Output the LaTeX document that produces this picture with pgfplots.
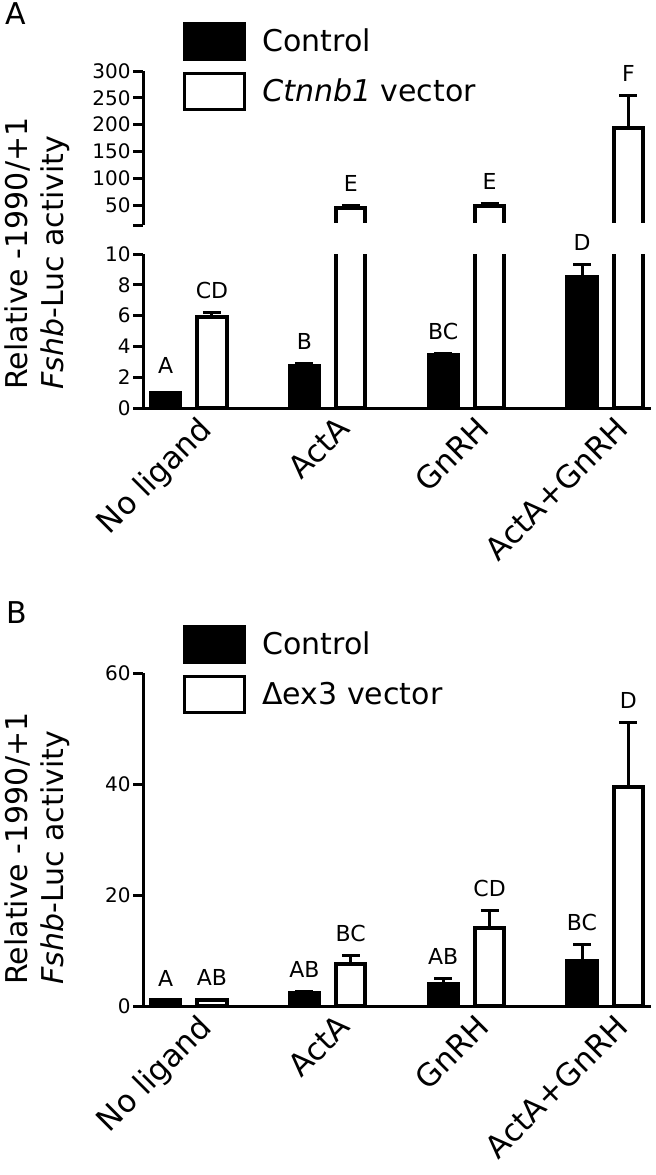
\documentclass[border=0pt]{standalone}
\usepackage{fontspec}
\setmainfont{DejaVu Sans}
\usepackage{pgfplots}
\pgfplotsset{compat=1.18}
\tikzset{lbl/.style={font=\fontsize{11}{11}\selectfont, anchor=base, yshift=7pt, inner sep=0pt}}
\pgfplotsset{
  legimg/.style={legend image code/.code={\draw[##1, line width=1.5pt] (0pt,-9pt) rectangle (30pt,9pt);}},
  base/.style={
    scale only axis, width=254pt,
    xmin=-0.33, xmax=3.33,
    enlargelimits=false,
    yticklabel style={font=\fontsize{10}{10}\selectfont, inner sep=1pt},
    /pgf/number format/assume math mode=true,
  },
  lines/.style={
    axis line style={line width=1.5pt, -},
    every outer x axis line/.append style={-},
    every outer y axis line/.append style={-},
    tick style={line width=1.5pt, black},
    tick align=outside, major tick length=5pt,
  },
  xlab/.style={
    xtick={0.06,1.06,2.06,3.06}, xticklabels={No ligand, ActA, GnRH, ActA+GnRH},
    xtick style={draw=none}, xticklabel shift=-2pt,
    xticklabel style={rotate=45, anchor=north east, inner sep=0pt, font=\fontsize{15.5}{15.5}\selectfont},
  },
  bctl/.style={ybar, bar width=0.21, bar shift=0pt, draw=black, fill=black, line width=2pt, legimg,
    error bars/y dir=plus, error bars/y explicit,
    error bars/error bar style={line width=1.5pt, black, solid},
    error bars/error mark options={rotate=90, mark size=4.5pt, line width=1.5pt, black}},
  bvec/.style={ybar, bar width=0.21, bar shift=0pt, draw=black, fill=white, line width=2pt, legimg,
    error bars/y dir=plus, error bars/y explicit,
    error bars/error bar style={line width=1.5pt, black, solid},
    error bars/error mark options={rotate=90, mark size=4.5pt, line width=1.5pt, black}},
  leg/.style={legend style={at={(0.0787,#1)}, anchor=north west, draw=none, fill=none, inner sep=0pt,
    row sep=5.5pt, column sep=8pt, nodes={inner sep=0pt, anchor=west},
    font=\fontsize{15}{15}\selectfont}, legend cell align=left},
}
\begin{document}
\begin{tikzpicture}
\useasboundingbox (0,0) rectangle (328pt,-587.5pt);

% ---------------- Panel A, upper segment ----------------
\begin{axis}[base, at={(71.5pt,-112.5pt)}, anchor=south west, height=77pt,
  ymin=12.7, ymax=300,
  axis y line=left, axis x line=none, lines,
  ytick={12.7,50,100,150,200,250,300}, yticklabels={,50,100,150,200,250,300},
  xtick=\empty, leg=1.318, clip mode=individual]
\addplot[bctl] coordinates {(-0.167,1.0) +- (0,0) (0.833,2.75) +- (0,0.12) (1.833,3.45) +- (0,0.1) (2.833,8.5) +- (0,0.8)};
\addlegendentry{Control}
\addplot[bvec] coordinates {(0.167,5.9) +- (0,0.3) (1.167,44) +- (0,5) (2.167,48) +- (0,5) (3.167,193) +- (0,62)};
\addlegendentry{\textit{Ctnnb1} vector}
% axis break: the bars continue below this segment
\fill[white] (axis cs:-0.30,5.0) rectangle (axis cs:3.33,16.9);
\node[lbl] at (axis cs:1.167,49) {E};
\node[lbl] at (axis cs:2.167,53) {E};
\node[lbl] at (axis cs:3.167,255) {F};
\end{axis}

% ---------------- Panel A, lower segment ----------------
\begin{axis}[base, xlab, at={(71.5pt,-204pt)}, anchor=south west, height=77pt,
  ymin=0, ymax=10,
  axis x line=bottom, axis y line=left, lines,
  ytick={0,2,4,6,8,10}, clip mode=individual]
\addplot[bctl] coordinates {(-0.167,1.0) +- (0,0) (0.833,2.75) +- (0,0.12) (1.833,3.45) +- (0,0.1) (2.833,8.5) +- (0,0.8)};
\addplot[bvec] coordinates {(0.167,5.9) +- (0,0.3) (1.167,44) +- (0,5) (2.167,48) +- (0,5) (3.167,193) +- (0,62)};
\node[lbl] at (axis cs:-0.167,1.3) {A};
\node[lbl] at (axis cs:0.167,6.2) {CD};
\node[lbl] at (axis cs:0.833,2.87) {B};
\node[lbl] at (axis cs:1.833,3.55) {BC};
\node[lbl] at (axis cs:2.833,9.3) {D};
\end{axis}

% ---------------- Panel B ----------------
\begin{axis}[base, xlab, at={(71.5pt,-503pt)}, anchor=south west, height=166.5pt,
  ymin=0, ymax=60,
  axis x line=bottom, axis y line=left, lines,
  ytick={0,20,40,60}, clip mode=individual, leg=1.144]
\addplot[bctl] coordinates {(-0.167,1.0) +- (0,0) (0.833,2.4) +- (0,0.3) (1.833,3.9) +- (0,1.1) (2.833,8.2) +- (0,2.8)};
\addlegendentry{Control}
\addplot[bvec] coordinates {(0.167,1.0) +- (0,0.15) (1.167,7.6) +- (0,1.5) (2.167,14.1) +- (0,3.2) (3.167,39.5) +- (0,11.6)};
\addlegendentry{Δex3 vector}
\node[lbl] at (axis cs:-0.167,1.0) {A};
\node[lbl] at (axis cs:0.167,1.15) {AB};
\node[lbl] at (axis cs:0.833,2.7) {AB};
\node[lbl] at (axis cs:1.167,9.1) {BC};
\node[lbl] at (axis cs:1.833,5.0) {AB};
\node[lbl] at (axis cs:2.167,17.3) {CD};
\node[lbl] at (axis cs:2.833,11.0) {BC};
\node[lbl] at (axis cs:3.167,51.1) {D};
\end{axis}

% y labels and panel letters
\node[rotate=90, anchor=north west, align=left, inner sep=0pt, font=\fontsize{15}{18}\selectfont]
  at (2pt,-195pt) {Relative -1990/+1\\\textit{Fshb}-Luc activity};
\node[rotate=90, anchor=north west, align=left, inner sep=0pt, font=\fontsize{15}{18}\selectfont]
  at (2pt,-492.5pt) {Relative -1990/+1\\\textit{Fshb}-Luc activity};
\node[font=\fontsize{15}{15}\selectfont] at (8pt,-7pt) {A};
\node[font=\fontsize{15}{15}\selectfont] at (8.5pt,-306.5pt) {B};
\end{tikzpicture}
\end{document}
